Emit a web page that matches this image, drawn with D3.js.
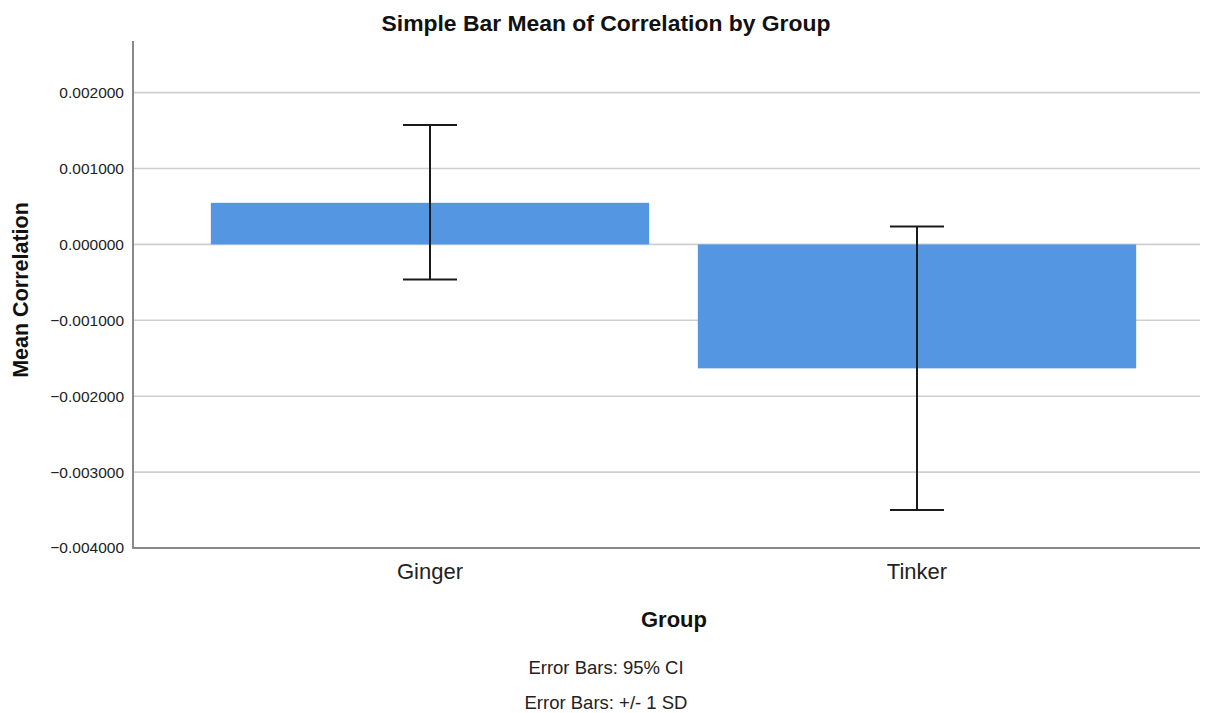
<!DOCTYPE html>
<html>
<head>
<meta charset="utf-8">
<script src="https://cdn.jsdelivr.net/npm/d3@7"></script>
<style>
  html, body { margin: 0; padding: 0; background: #fff; }
  svg { display: block; font-family: "Liberation Sans", Arial, sans-serif; }
</style>
</head>
<body>
<svg id="chart" width="1205" height="713"></svg>
<script>
// Group means with 95% CI bounds
const groups = ["Ginger", "Tinker"];
const means = [0.000548, -0.001633];
const ciLower = [-0.000464, -0.0035];
const ciUpper = [0.001573, 0.000236];
const yTicks = [0.002, 0.001, 0, -0.001, -0.002, -0.003, -0.004];

const svg = d3.select("#chart");

const plot = { left: 133, right: 1200, top: 41, bottom: 548 };

const y = d3.scaleLinear()
  .domain([-0.004, 0.00268])
  .range([plot.bottom, plot.top]);

const x = d3.scaleBand()
  .domain(groups)
  .range([186.5, 1160.5])
  .paddingInner(0.1)
  .paddingOuter(0.05);

// horizontal gridlines
svg.append("g")
  .selectAll("line")
  .data(yTicks.filter(t => t !== -0.004))
  .join("line")
  .attr("x1", plot.left).attr("x2", plot.right)
  .attr("y1", d => y(d)).attr("y2", d => y(d))
  .attr("stroke", "#cfcfcf")
  .attr("stroke-width", 1.6);

// y axis tick labels
const yAxis = d3.axisLeft(y)
  .tickValues(yTicks)
  .tickFormat(d3.format(".6f"))
  .tickSize(0)
  .tickPadding(9);
const yg = svg.append("g")
  .attr("transform", `translate(${plot.left},0)`)
  .call(yAxis);
yg.select(".domain").remove();
yg.selectAll("text")
  .attr("font-size", "15.5px")
  .attr("fill", "#222")
  .attr("font-family", "Liberation Sans, Arial, sans-serif");

// bars
svg.append("g")
  .selectAll("rect")
  .data(groups)
  .join("rect")
  .attr("x", d => x(d))
  .attr("width", x.bandwidth())
  .attr("y", (d, i) => y(Math.max(0, means[i])))
  .attr("height", (d, i) => Math.abs(y(means[i]) - y(0)))
  .attr("fill", "#5596e3");

// error bars
const capHalf = 27;
const eb = svg.append("g")
  .attr("stroke", "#1a1a1a")
  .attr("stroke-width", 2);
groups.forEach((g, i) => {
  const cx = x(g) + x.bandwidth() / 2;
  eb.append("line")
    .attr("x1", cx).attr("x2", cx)
    .attr("y1", y(ciUpper[i])).attr("y2", y(ciLower[i]));
  eb.append("line")
    .attr("x1", cx - capHalf).attr("x2", cx + capHalf)
    .attr("y1", y(ciUpper[i])).attr("y2", y(ciUpper[i]));
  eb.append("line")
    .attr("x1", cx - capHalf).attr("x2", cx + capHalf)
    .attr("y1", y(ciLower[i])).attr("y2", y(ciLower[i]));
});

// axis lines
svg.append("line")
  .attr("x1", plot.left).attr("x2", plot.left)
  .attr("y1", plot.top).attr("y2", plot.bottom)
  .attr("stroke", "#888").attr("stroke-width", 2);
svg.append("line")
  .attr("x1", plot.left - 1).attr("x2", plot.right)
  .attr("y1", plot.bottom).attr("y2", plot.bottom)
  .attr("stroke", "#888").attr("stroke-width", 2);

// x axis category labels
const xAxis = d3.axisBottom(x).tickSize(0).tickPadding(0);
const xg = svg.append("g")
  .attr("transform", `translate(0,${plot.bottom})`)
  .call(xAxis);
xg.select(".domain").remove();
xg.selectAll("text")
  .attr("y", 31)
  .attr("dy", null)
  .attr("font-size", "22px")
  .attr("fill", "#222")
  .attr("font-family", "Liberation Sans, Arial, sans-serif");

// titles
svg.append("text")
  .attr("x", 606).attr("y", 31)
  .attr("text-anchor", "middle")
  .attr("font-size", "22.9px")
  .attr("font-weight", "bold")
  .attr("fill", "#111")
  .text("Simple Bar Mean of Correlation by Group");

svg.append("text")
  .attr("transform", "translate(28,290) rotate(-90)")
  .attr("text-anchor", "middle")
  .attr("font-size", "21.5px")
  .attr("font-weight", "bold")
  .attr("fill", "#111")
  .text("Mean Correlation");

svg.append("text")
  .attr("x", 674).attr("y", 627)
  .attr("text-anchor", "middle")
  .attr("font-size", "22px")
  .attr("font-weight", "bold")
  .attr("fill", "#111")
  .text("Group");

svg.append("text")
  .attr("x", 606).attr("y", 674)
  .attr("text-anchor", "middle")
  .attr("font-size", "18.5px")
  .attr("fill", "#222")
  .text("Error Bars: 95% CI");

svg.append("text")
  .attr("x", 606).attr("y", 709)
  .attr("text-anchor", "middle")
  .attr("font-size", "18.5px")
  .attr("fill", "#222")
  .text("Error Bars: +/- 1 SD");
</script>
</body>
</html>
